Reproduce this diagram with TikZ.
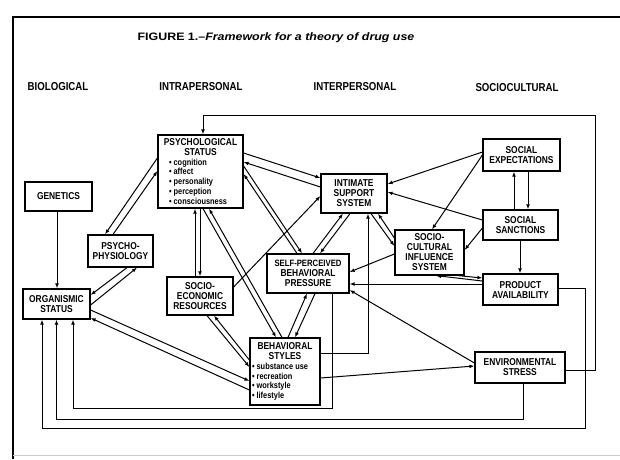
\documentclass[tikz,border=0pt]{standalone}
\usepackage{fontspec}
\setmainfont{Liberation Sans}
\newfontfamily\boxfont[FakeStretch=0.84]{Liberation Sans}
\newfontfamily\titlefont[FakeStretch=1.15]{Liberation Sans}
\usetikzlibrary{arrows.meta,calc}
\newcommand\itemf{\boxfont\bfseries\fontsize{8.8}{9.7}\selectfont}
\begin{document}
\begin{tikzpicture}[x=1pt,y=-1pt,
  box/.style={draw, line width=1.2pt, inner sep=0pt, align=center, font=\boxfont\bfseries\fontsize{10}{10}\selectfont},
  conn/.style={line width=1pt, -{Latex[length=5pt,width=3.8pt]}},
  hdr/.style={font=\boxfont\bfseries\fontsize{11.5}{11.5}\selectfont, inner sep=0pt},
  frameline/.style={line width=1.3pt}]
\useasboundingbox (0,0) rectangle (620,459);
\fill[white] (0,0) rectangle (620,459);
% frame
\draw[frameline] (13,459) -- (13,17) -- (620,17);
\draw[gray!40, line width=1pt] (13,455) -- (620,455);
% title and headers
\node[font=\titlefont\bfseries\fontsize{10.8}{12}\selectfont, inner sep=0pt] (title) at (276,38) {FIGURE 1.–\textit{Framework for a theory of drug use}};
\node[hdr] (hbio) at (58,87) {BIOLOGICAL};
\node[hdr] (hintra) at (201,87) {INTRAPERSONAL};
\node[hdr] (hinter) at (355,87) {INTERPERSONAL};
\node[hdr] (hsoc) at (517,88) {SOCIOCULTURAL};
% boxes
\node[box, minimum width=85pt, minimum height=73pt] (psych) at (200.5,171.5) {\parbox{81pt}{\fontsize{10}{9.7}\selectfont\centering PSYCHOLOGICAL\\STATUS\par\raggedright\itemf\hspace*{9pt}\textbullet\ cognition\\\hspace*{9pt}\textbullet\ affect\\\hspace*{9pt}\textbullet\ personality\\\hspace*{9pt}\textbullet\ perception\\\hspace*{9pt}\textbullet\ consciousness}};
\node[box, minimum width=67pt, minimum height=29pt] (gen) at (58.5,196.5) {GENETICS};
\node[box, minimum width=65pt, minimum height=32pt] (pp) at (120.5,251) {PSYCHO-\\PHYSIOLOGY};
\node[box, minimum width=67pt, minimum height=30pt] (org) at (56.5,304) {ORGANISMIC\\STATUS};
\node[box, minimum width=66pt, minimum height=38pt] (ser) at (200,296) {SOCIO-\\ECONOMIC\\RESOURCES};
\node[box, minimum width=82pt, minimum height=39pt] (spbp) at (308,273.5) {{\fontsize{9.2}{10}\selectfont SELF-PERCEIVED}\\BEHAVIORAL\\PRESSURE};
\node[box, minimum width=70pt, minimum height=67pt] (bs) at (285,371.5) {\parbox{66pt}{\centering BEHAVIORAL\\STYLES\par\raggedright\itemf\textbullet\ substance use\\\textbullet\ recreation\\\textbullet\ workstyle\\\textbullet\ lifestyle}};
\node[box, minimum width=66pt, minimum height=39pt] (iss) at (354,193.5) {INTIMATE\\SUPPORT\\SYSTEM};
\node[box, minimum width=69pt, minimum height=45pt] (scis) at (429.5,252.5) {SOCIO-\\CULTURAL\\INFLUENCE\\SYSTEM};
\node[box, minimum width=77pt, minimum height=32pt] (se) at (521.5,155) {SOCIAL\\EXPECTATIONS};
\node[box, minimum width=75pt, minimum height=30pt] (ss) at (520.5,225) {SOCIAL\\SANCTIONS};
\node[box, minimum width=75pt, minimum height=31pt] (pa) at (520.5,289.5) {PRODUCT\\AVAILABILITY};
\node[box, minimum width=90pt, minimum height=31pt] (env) at (520,367.5) {ENVIRONMENTAL\\STRESS};
\coordinate (ltr) at (595,115);
\coordinate (lbr) at (585,428);
% connectors
\draw[conn] ($(gen.south)+(-1.5,0)$) -- ($(org.north)+(0.5,0)$);
\draw[conn] ($(pp.south)+(6.5,0)$) -- ($(org.east)+(0,-9)$);
\draw[conn] ($(org.east)+(0,1)$) -- ($(pp.south)+(16.5,0)$);
\draw[conn] ($(psych.west)+(0,-13.5)$) -- ($(pp.north)+(-15.5,0)$);
\draw[conn] ($(pp.north)+(-7.5,0)$) -- ($(psych.west)+(0,-0.5)$);
\draw[conn] ($(ser.north)+(-5,0)$) -- ($(psych.south)+(-5.5,0)$);
\draw[conn] ($(psych.south)+(-0.5,0)$) -- ($(ser.north)+(0,0)$);
\draw[conn] ($(psych.south)+(2.5,0)$) -- ($(bs.north)+(-9,0)$);
\draw[conn] ($(bs.north)+(-3,0)$) -- ($(psych.south)+(8.5,0)$);
\draw[conn] ($(psych.east)+(0,-18.5)$) -- ($(iss.west)+(0,-15.5)$);
\draw[conn] ($(iss.west)+(0,-6.5)$) -- ($(psych.east)+(0,-9.5)$);
\draw[conn] ($(psych.east)+(0,-5.5)$) -- ($(spbp.north)+(-6,0)$);
\draw[conn] ($(spbp.north)+(-11,0)$) -- ($(psych.east)+(0,2.5)$);
\draw[conn] ($(spbp.north)+(5,0)$) -- ($(iss.south)+(-11,0)$);
\draw[conn] ($(iss.south)+(-4,0)$) -- ($(spbp.north)+(12,0)$);
\draw[conn] ($(ser.east)+(0,-9)$) -- ($(iss.west)+(0,2.5)$);
\draw[conn] ($(bs.west)+(0,-11.5)$) -- ($(ser.south)+(14,0)$);
\draw[conn] ($(ser.south)+(7,0)$) -- ($(bs.west)+(0,-4.5)$);
\draw[conn] ($(org.east)+(0,6)$) -- ($(bs.west)+(0,9.5)$);
\draw[conn] ($(bs.west)+(0,18.5)$) -- ($(org.east)+(0,14)$);
\draw[conn] ($(bs.north)+(3,0)$) -- ($(spbp.south)+(-1,0)$);
\draw[conn] ($(spbp.south)+(7,0)$) -- ($(bs.north)+(10,0)$);
\draw[conn] ($(bs.east)+(0,-18.5)$) -| ($(iss.south)+(14,0)$);
\draw[conn] ($(bs.east)+(0,6.5)$) -- ($(env.west)+(0,-1.5)$);
\draw[conn] ($(env.west)+(0,-4.5)$) -- ($(spbp.east)+(0,16.5)$);
\draw[conn] ($(pa.west)+(0,-5.5)$) -- ($(spbp.east)+(0,10.5)$);
\draw[conn] ($(pa.west)+(0,-8.5)$) -- ($(scis.south)+(6.5,0)$);
\draw[conn] ($(scis.south)+(28.5,0)$) -- ($(pa.west)+(0,-11.5)$);
\draw[conn] ($(ss.south)+(-0.5,0)$) -- ($(pa.north)+(-0.5,0)$);
\draw[conn] ($(ss.north)+(-6.5,0)$) -- ($(se.south)+(-7.5,0)$);
\draw[conn] ($(se.south)+(6.5,0)$) -- ($(ss.north)+(7.5,0)$);
\draw[conn] ($(se.west)+(0,-3)$) -- ($(iss.east)+(0,-9.5)$);
\draw[conn] ($(se.west)+(0,0)$) -- ($(scis.north)+(2.5,0)$);
\draw[conn] ($(ss.west)+(0,-5)$) -- ($(iss.east)+(0,-1.5)$);
\draw[conn] ($(ss.west)+(0,3)$) -- ($(scis.east)+(0,-2.5)$);
\draw[conn] ($(iss.south)+(17,0)$) -- ($(scis.west)+(0,-6.5)$);
\draw[conn] ($(scis.west)+(0,-14.5)$) -- ($(iss.south)+(24,0)$);
\draw[conn] ($(scis.west)+(0,1.5)$) -- ($(spbp.east)+(0,-1.5)$);
% feedback loops
\draw[conn] ($(env.east)+(0,2.5)$) -| (ltr) -| ($(psych.north)+(2.5,0)$);
\draw[conn] ($(pa.east)+(0,-1.5)$) -| (lbr) -| ($(org.south)+(-14.5,0)$);
\draw[conn] ($(env.south)+(3,0)$) |- ($(org.south)+(0,100)$) -- (org.south);
\draw[conn] ($(spbp.south)+(24,0)$) |- ($(org.south)+(16.5,89)$) -- ($(org.south)+(16.5,0)$);
\end{tikzpicture}
\end{document}
